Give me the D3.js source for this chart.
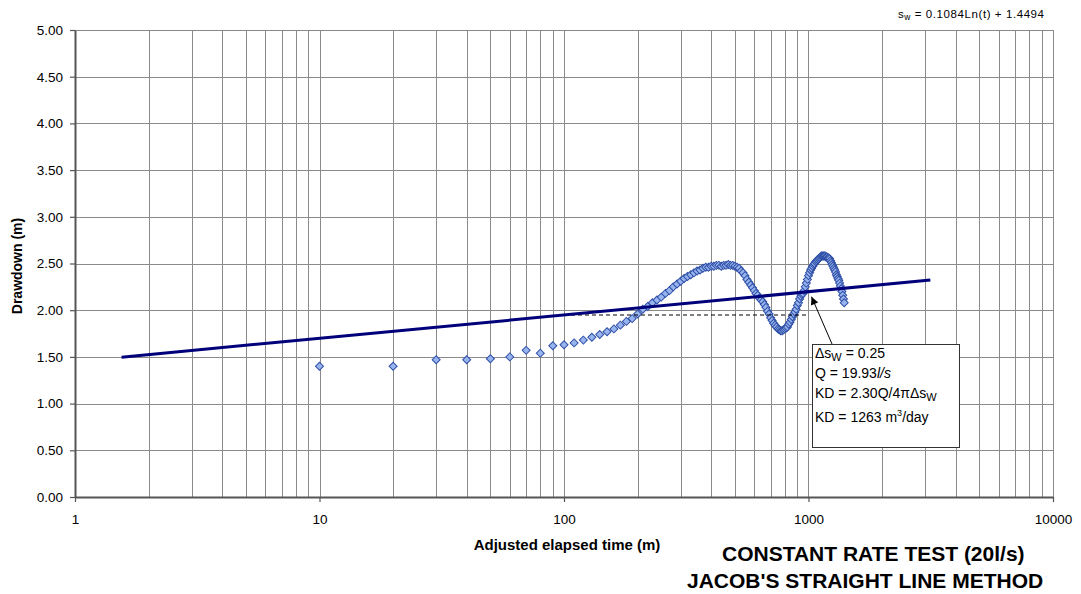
<!DOCTYPE html>
<html>
<head>
<meta charset="utf-8">
<script src="https://cdn.jsdelivr.net/npm/d3@7"></script>
<style>
  body { margin: 0; background: #fff; }
  svg { display: block; }
  text { font-family: "Liberation Sans", Arial, Helvetica, sans-serif; fill: #000; }
</style>
</head>
<body>
<svg id="chart" width="1081" height="594"></svg>
<script>
// Elapsed time since pumping started (minutes)
const elapsedTime = [
  10, 20, 30, 40, 50, 60, 70, 80, 90, 100,
  110, 120, 130, 140, 150, 160, 170, 180, 190, 200,
  210, 220, 230, 240, 250, 260, 270, 280, 290, 300,
  310, 320, 330, 340, 350, 360, 370, 380, 390, 400,
  410, 420, 430, 440, 450, 460, 470, 480, 490, 500,
  510, 520, 530, 540, 550, 560, 570, 580, 590, 600,
  610, 620, 630, 640, 650, 660, 670, 680, 690, 700,
  710, 720, 730, 740, 750, 760, 770, 780, 790, 800,
  810, 820, 830, 840, 850, 860, 870, 880, 890, 900,
  910, 920, 930, 940, 950, 960, 970, 980, 990, 1000,
  1010, 1020, 1030, 1040, 1050, 1060, 1070, 1080, 1090, 1100,
  1110, 1120, 1130, 1140, 1150, 1160, 1170, 1180, 1190, 1200,
  1210, 1220, 1230, 1240, 1250, 1260, 1270, 1280, 1290, 1300,
  1310, 1320, 1330, 1340, 1350, 1360, 1370, 1380, 1390, 1400
];

// Measured drawdown in the pumped well (m)
const drawdown = [
  1.40, 1.40, 1.47, 1.47, 1.48, 1.50, 1.57, 1.54, 1.62, 1.63,
  1.65, 1.68, 1.71, 1.74, 1.77, 1.80, 1.84, 1.88, 1.91, 1.96,
  2.01, 2.04, 2.08, 2.11, 2.14, 2.18, 2.21, 2.25, 2.28, 2.31,
  2.34, 2.36, 2.38, 2.40, 2.42, 2.43, 2.45, 2.46, 2.46, 2.47,
  2.47, 2.48, 2.48, 2.47, 2.48, 2.48, 2.49, 2.48, 2.48, 2.47,
  2.46, 2.45, 2.42, 2.40, 2.37, 2.33, 2.30, 2.27, 2.24, 2.21,
  2.18, 2.16, 2.13, 2.11, 2.09, 2.06, 2.03, 1.99, 1.96, 1.92,
  1.89, 1.86, 1.84, 1.82, 1.80, 1.79, 1.78, 1.78, 1.79, 1.80,
  1.81, 1.82, 1.85, 1.87, 1.90, 1.93, 1.96, 1.98, 2.01, 2.05,
  2.08, 2.12, 2.15, 2.17, 2.18, 2.21, 2.25, 2.29, 2.33, 2.37,
  2.40, 2.43, 2.45, 2.47, 2.49, 2.50, 2.52, 2.53, 2.54, 2.55,
  2.56, 2.57, 2.58, 2.58, 2.58, 2.58, 2.58, 2.57, 2.57, 2.56,
  2.56, 2.55, 2.53, 2.51, 2.49, 2.47, 2.45, 2.43, 2.41, 2.38,
  2.36, 2.34, 2.32, 2.29, 2.26, 2.23, 2.20, 2.16, 2.12, 2.08
];

// Axis ticks
const xTicks = [1, 10, 100, 1000, 10000];
const yTicks = [0, 0.5, 1.0, 1.5, 2.0, 2.5, 3.0, 3.5, 4.0, 4.5, 5.0];

// Logarithmic trend line sw = a*ln(t) + b, with its drawn extent (minutes)
const trendSlope = 0.1084;
const trendIntercept = 1.4494;
const trendExtent = [1.55, 3150];

// One log cycle used to read the drawdown difference
const deltaCycle = [100, 1000];

const svg = d3.select("#chart");

const x = d3.scaleLog().domain([1, 10000]).range([75, 1053]);
const y = d3.scaleLinear().domain([0, 5]).range([497, 30]);
const trend = t => trendSlope * Math.log(t) + trendIntercept;

// Grid: every 1..9 within each decade, plus horizontal lines at the y ticks
const minorX = [];
xTicks.slice(0, -1).forEach(d => { for (let k = 1; k <= 9; k++) minorX.push(d * k); });
minorX.push(xTicks[xTicks.length - 1]);

const grid = svg.append("g").attr("stroke", "#8a8a8a").attr("stroke-width", 1);
grid.selectAll("line.v").data(minorX).join("line")
  .attr("class", "v")
  .attr("x1", d => Math.round(x(d)) + 0.5).attr("x2", d => Math.round(x(d)) + 0.5)
  .attr("y1", y(0)).attr("y2", y(5));
grid.selectAll("line.h").data(yTicks).join("line")
  .attr("class", "h")
  .attr("x1", x(1)).attr("x2", x(10000))
  .attr("y1", d => Math.round(y(d)) + 0.5).attr("y2", d => Math.round(y(d)) + 0.5);

// Axes
const yAxis = svg.append("g")
  .attr("transform", `translate(${x(1)},0)`)
  .call(d3.axisLeft(y).tickValues(yTicks).tickFormat(d3.format(".2f"))
    .tickSize(5).tickSizeOuter(0).tickPadding(7));
const xAxis = svg.append("g")
  .attr("transform", `translate(0,${y(0)})`)
  .call(d3.axisBottom(x).tickValues(xTicks).tickFormat(d3.format("d"))
    .tickSize(5).tickSizeOuter(0).tickPadding(12));
[yAxis, xAxis].forEach(a => {
  a.select(".domain").attr("stroke", "#555").attr("stroke-width", 2);
  a.selectAll(".tick line").attr("stroke", "#555").attr("stroke-width", 1.2);
  a.selectAll(".tick text").attr("font-size", 13.5).attr("fill", "#000")
    .style("font-family", "'Liberation Sans', Arial, sans-serif");
});

// Axis titles
svg.append("text")
  .attr("x", 567).attr("y", 550)
  .attr("text-anchor", "middle")
  .attr("font-size", 15).attr("font-weight", "bold")
  .text("Adjusted elapsed time (m)");
svg.append("text")
  .attr("transform", "translate(22,266) rotate(-90)")
  .attr("text-anchor", "middle")
  .attr("font-size", 14).attr("font-weight", "bold")
  .text("Drawdown (m)");

// Observed drawdown markers (diamonds)
const points = elapsedTime.map((t, i) => ({ t, s: drawdown[i] }));
const diamond = d3.symbol(d3.symbolSquare, 32);
svg.append("g").selectAll("path").data(points).join("path")
  .attr("d", diamond)
  .attr("transform", d => `translate(${x(d.t)},${y(d.s)}) rotate(45)`)
  .attr("fill", "#97b4ee")
  .attr("stroke", "#2f4ea6")
  .attr("stroke-width", 1);

// Dashed construction line: drawdown at the start of the cycle, carried across it
svg.append("line")
  .attr("x1", x(deltaCycle[0])).attr("x2", x(deltaCycle[1]))
  .attr("y1", y(trend(deltaCycle[0]))).attr("y2", y(trend(deltaCycle[0])))
  .attr("stroke", "#000").attr("stroke-width", 1)
  .attr("stroke-dasharray", "4,3");

// Straight-line trend
svg.append("line")
  .attr("x1", x(trendExtent[0])).attr("y1", y(trend(trendExtent[0])))
  .attr("x2", x(trendExtent[1])).attr("y2", y(trend(trendExtent[1])))
  .attr("stroke", "#00007a").attr("stroke-width", 3)
  .attr("stroke-linecap", "butt");

// Trend equation (top right)
const eq = svg.append("text").attr("x", 898).attr("y", 18)
  .attr("font-size", 11.5)
  .attr("textLength", 146).attr("lengthAdjust", "spacing");
eq.append("tspan").text("s");
eq.append("tspan").attr("font-size", 8.5).attr("dy", 2).text("w");
eq.append("tspan").attr("dy", -2).text(" = 0.1084Ln(t) + 1.4494");

// Annotation box with arrow to the trend line at the end of the cycle
svg.append("defs").append("marker")
  .attr("id", "arrowHead")
  .attr("viewBox", "0 0 10 10")
  .attr("refX", 10).attr("refY", 5)
  .attr("markerWidth", 10).attr("markerHeight", 8)
  .attr("markerUnits", "userSpaceOnUse")
  .attr("orient", "auto")
  .append("path").attr("d", "M0,0 L10,5 L0,10 Z").attr("fill", "#000");

const tipX = x(deltaCycle[1]) + 3;
const tipY = y(trend(deltaCycle[1])) + 5;
svg.append("line")
  .attr("x1", 832).attr("y1", 344)
  .attr("x2", tipX).attr("y2", tipY)
  .attr("stroke", "#000").attr("stroke-width", 1)
  .attr("marker-end", "url(#arrowHead)");

const box = svg.append("g");
box.append("rect")
  .attr("x", 812.5).attr("y", 344.5).attr("width", 147).attr("height", 103)
  .attr("fill", "#fff").attr("stroke", "#333").attr("stroke-width", 1);

const tx = 815, fs = 14;
const l1 = box.append("text").attr("x", tx).attr("y", 358).attr("font-size", fs);
l1.append("tspan").text("\u0394s");
l1.append("tspan").attr("font-size", 11).attr("dy", 3).text("W");
l1.append("tspan").attr("dy", -3).text(" = 0.25");

const l2 = box.append("text").attr("x", tx).attr("y", 378).attr("font-size", fs);
l2.append("tspan").text("Q = 19.93");
l2.append("tspan").attr("font-style", "italic").text("l/s");

const l3 = box.append("text").attr("x", tx).attr("y", 398).attr("font-size", fs);
l3.append("tspan").text("KD = 2.30Q/4\u03c0\u0394s");
l3.append("tspan").attr("font-size", 11).attr("dy", 3).text("W");

const l4 = box.append("text").attr("x", tx).attr("y", 422).attr("font-size", fs);
l4.append("tspan").text("KD = 1263 m");
l4.append("tspan").attr("font-size", 9).attr("dy", -6).text("3");
l4.append("tspan").attr("dy", 6).text("/day");

// Chart titles
svg.append("text")
  .attr("x", 722).attr("y", 561)
  .attr("font-size", 21).attr("font-weight", "bold")
  .text("CONSTANT RATE TEST (20l/s)");
svg.append("text")
  .attr("x", 687).attr("y", 588)
  .attr("font-size", 21).attr("font-weight", "bold")
  .text("JACOB'S STRAIGHT LINE METHOD");
</script>
</body>
</html>
